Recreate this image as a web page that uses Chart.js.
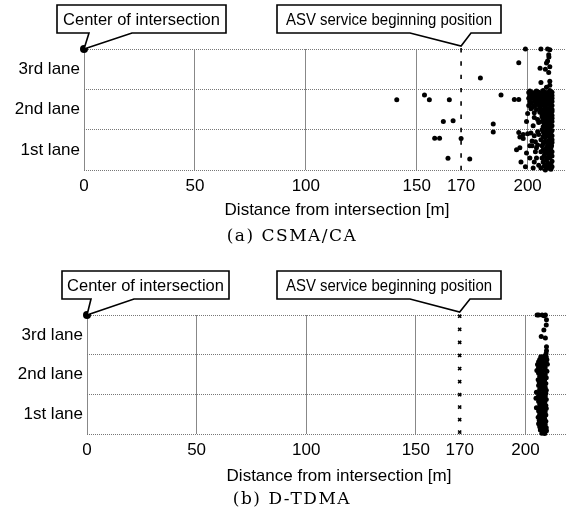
<!DOCTYPE html>
<html><head><meta charset="utf-8">
<script src="https://cdn.jsdelivr.net/npm/chart.js@4/dist/chart.umd.min.js"></script>
<style>
html,body{margin:0;padding:0;background:#fff;}
#wrap{width:566px;height:515px;position:relative;overflow:hidden;}
.p{position:absolute;left:0;width:566px;}
</style></head><body>
<div id="wrap">
<div class="p" style="top:0;height:265px"><canvas id="ca"></canvas></div>
<div class="p" style="top:265px;height:250px"><canvas id="cb"></canvas></div>
</div>
<script>
// ---------- data ----------
const laneLabels = ['1st lane', '2nd lane', '3rd lane'];
const xTickValues = [0, 50, 100, 150, 170, 200];
const xGridValues = [0, 50, 100, 150, 200];
const asvPosition = 170;
const asvMarkY = [2.97, 2.64, 2.31, 1.98, 1.65, 1.32, 0.99, 0.68, 0.36, 0.05];
const centerPoint = [0, 3];
const calloutTexts = ['Center of intersection', 'ASV service beginning position'];
const axisTitle = 'Distance from intersection [m]';
const captions = ['(a) CSMA/CA', '(b) D-TDMA'];

const csmaPoints = [
  [199,3.0],[206,3.0],[209,3.0],[210,2.98],[209.5,2.86],[209.6,2.8],[209,2.7],[208.5,2.65],
  [205.6,2.52],[208,2.5],[209.5,2.42],[210,2.56],[196,2.66],[178.7,2.28],[206,2.17],[210,2.2],
  [210,2.1],[208.5,2.05],
  [141,1.74],[153.5,1.86],[155.7,1.74],[164.7,1.74],[162,1.2],[166.4,1.22],[158.1,0.79],
  [160.3,0.79],[170,0.78],[164.1,0.29],[173.9,0.27],
  [188,1.86],[194,1.75],[196,1.75],
  [201,1.96],[204,1.96],[207,1.97],[210,1.97],
  [200.5,1.92],[202,1.92],[203.5,1.93],[205,1.93],[206.5,1.93],[208,1.93],[209.5,1.93],[211,1.93],
  [207.5,1.89],[209.5,1.89],
  [201,1.85],[202.5,1.85],[204,1.85],[205.5,1.86],[207,1.86],[208.5,1.86],[210,1.86],[211,1.85],
  [206,1.81],[209,1.82],
  [200.5,1.78],[202,1.78],[203.5,1.77],[205,1.78],[206.5,1.78],[208,1.78],[209.5,1.78],[211,1.78],
  [207.5,1.74],[210,1.74],
  [201,1.7],[203,1.7],[204.5,1.7],[206,1.7],[207.5,1.7],[209,1.7],[210.5,1.7],[211,1.7],
  [201.5,1.65],[206.5,1.66],[209.5,1.66],
  [200.5,1.6],[203.5,1.62],[205,1.62],[207,1.62],[208.5,1.62],[210,1.62],[211,1.6],
  [202,1.55],[203,1.58],[205.5,1.56],[208,1.57],[210.5,1.57],
  [201.5,1.52],[204,1.5],[206,1.52],[208,1.52],[209.5,1.52],[211,1.5],
  [207,1.47],[209.5,1.47],[211,1.45],[208.5,1.45],
  [200,1.4],[203,1.42],[205.5,1.43],[207.5,1.42],[209,1.42],[210.5,1.4],
  [206.5,1.37],[208.5,1.36],[210,1.35],[211,1.35],
  [199.5,1.2],[203,1.3],[204.5,1.25],[206.5,1.32],[208,1.3],[209.5,1.3],[211,1.28],
  [207,1.25],[209.5,1.24],[208.5,1.25],[211,1.2],
  [205,1.18],[206.5,1.2],[208.5,1.2],[210,1.18],
  [207.5,1.14],[209.5,1.13],[202.5,1.1],[208.5,1.1],
  [184.5,1.14],[184.5,0.94],
  [207,1.07],[209.5,1.06],[206.5,1.0],[208.5,0.98],[210.5,0.93],[204.5,0.95],[209.5,1.0],[211,0.98],
  [196,0.93],[198,0.88],[200,0.9],[201.5,0.92],[196.5,0.82],[198,0.78],[203,0.85],[205,0.88],
  [207,0.95],[208.5,1.05],[210,1.0],[211,1.1],
  [207.5,0.9],[209.5,0.9],[207,0.83],[210,0.8],[208.5,0.9],[211,0.85],
  [202,0.72],[203.5,0.7],[206,0.75],[208,0.8],[209.5,0.85],[211,0.75],
  [207.5,0.7],[209.5,0.72],[208.5,0.68],[211,0.68],
  [195,0.5],[196.5,0.55],[201,0.6],[202,0.6],[204.5,0.62],[207,0.65],[209,0.6],[210.5,0.55],
  [206.5,0.6],[208.5,0.56],[210,0.62],[204,0.55],[210.8,0.6],
  [207,0.5],[209,0.5],[210.5,0.48],[208.5,0.48],
  [199.5,0.42],[203.5,0.45],[206,0.45],[208,0.42],[209.5,0.4],[211,0.45],
  [207.5,0.36],[209.5,0.35],[211,0.35],
  [197,0.2],[201,0.3],[204,0.3],[206.5,0.3],[208.5,0.25],[210,0.3],[208.5,0.3],
  [207,0.2],[209,0.18],[210.5,0.15],[203,0.2],[211,0.22],
  [199,0.08],[202.5,0.05],[205,0.12],[207.5,0.1],[209,0.05],[210.5,0.02],[208,0.0],
  [206,0.05],[209.8,0.1],[208.5,0.12],[211,0.08]
];

const tdmaPoints = [
  [205.3,3.0],[206,3.0],[207.6,3.0],[208.5,2.98],[209.1,3.0],[209.6,2.88],[209.5,2.75],[208.4,2.62],
  [207.2,2.46],[209.1,2.42],[209.6,2.2],[209.6,2.1],[209.4,2.02],
  [207,1.95],[208.5,1.96],[209.5,1.94],
  [206.5,1.88],[208,1.9],[209.8,1.87],
  [206,1.82],[207.5,1.83],[209,1.8],
  [205.5,1.75],[207,1.76],[208.5,1.74],[210,1.76],
  [206,1.68],[207.5,1.7],[209,1.67],
  [205.2,1.6],[206.8,1.62],[208.3,1.6],[209.8,1.58],
  [206,1.53],[207.5,1.52],[209,1.5],
  [206.5,1.45],[208,1.44],[209.5,1.42],
  [205.8,1.37],[207.2,1.36],[208.7,1.35],
  [206.3,1.3],[207.8,1.28],[209.3,1.27],
  [206,1.22],[207.5,1.2],[209,1.18],
  [206.5,1.13],[208,1.12],[209.5,1.1],
  [205,1.05],[206.5,1.04],[208,1.03],[209.3,1.02],
  [206,0.97],[207.5,0.96],[209,0.95],
  [204.8,0.9],[206.5,0.89],[208,0.88],[209.5,0.87],
  [206,0.82],[207.3,0.8],[208.8,0.8],
  [206.5,0.74],[208,0.73],[209.3,0.72],
  [205,0.66],[206.5,0.65],[208,0.65],[209.5,0.64],
  [206,0.58],[207.5,0.57],[209,0.56],
  [206.5,0.5],[208,0.49],[209.3,0.48],
  [205.8,0.42],[207.2,0.41],[208.7,0.4],
  [206.3,0.34],[207.8,0.33],[209.3,0.32],
  [206,0.26],[207.5,0.25],[209,0.24],
  [206.5,0.18],[208,0.17],[209.5,0.16],
  [206.8,0.1],[208.2,0.09],[209.6,0.08],
  [207.5,0.02],[208.8,0.01]
];

// ---------- drawing ----------
const SANS = '"Liberation Sans", Arial, sans-serif';
const SERIF = '"DejaVu Serif", "Liberation Serif", serif';
const toXY = a => a.map(p => ({x: p[0], y: p[1]}));

function calloutPlugin(cfg) {
  return {
    id: 'callouts',
    afterDraw(chart) {
      const ctx = chart.ctx;
      const xs = chart.scales.x, ys = chart.scales.y;
      ctx.save();
      ctx.strokeStyle = '#000';
      ctx.lineWidth = 1.6;
      ctx.lineJoin = 'miter';
      cfg.boxes.forEach(b => {
        const tipX = xs.getPixelForValue(b.tipValue[0]);
        const tipY = ys.getPixelForValue(b.tipValue[1]) + b.tipDy;
        ctx.fillStyle = '#fff';
        ctx.beginPath();
        ctx.moveTo(b.l, b.t);
        ctx.lineTo(b.r, b.t);
        ctx.lineTo(b.r, b.b);
        ctx.lineTo(b.t2, b.b);
        ctx.lineTo(tipX, tipY);
        ctx.lineTo(b.t1, b.b);
        ctx.lineTo(b.l, b.b);
        ctx.closePath();
        ctx.fill();
        ctx.stroke();
        ctx.fillStyle = '#000';
        ctx.font = '16.5px ' + SANS;
        ctx.textAlign = 'center';
        ctx.textBaseline = 'middle';
        ctx.fillText(b.text, (b.l + b.r) / 2, (b.t + b.b) / 2 + 1, b.maxW);
      });
      ctx.font = '17px ' + SANS;
      ctx.textAlign = 'center';
      ctx.textBaseline = 'middle';
      ctx.fillText(axisTitle, cfg.titleX, cfg.titleY);
      ctx.font = '17px ' + SERIF;
      ctx.letterSpacing = '1.5px';
      ctx.fillText(cfg.caption, cfg.capX, cfg.capY);
      ctx.restore();
    }
  };
}

function makeChart(id, pts, o) {
  return new Chart(document.getElementById(id), {
    type: 'scatter',
    data: {
      datasets: [
        { data: toXY(pts), backgroundColor: '#000', borderWidth: 0, pointRadius: o.r, pointHoverRadius: o.r, clip: false },
        { data: asvMarkY.map(y => ({x: asvPosition, y})), pointStyle: o.markStyle, pointRotation: o.markRot,
          pointRadius: 2.2, borderColor: '#000', backgroundColor: '#000', borderWidth: 1.6, clip: false },
        { data: [{x: centerPoint[0], y: centerPoint[1]}], backgroundColor: '#000', borderWidth: 0, pointRadius: 4, clip: false }
      ]
    },
    options: {
      responsive: true, maintainAspectRatio: false, animation: false, devicePixelRatio: 1,
      layout: { autoPadding: false, padding: { top: o.padTop, bottom: o.padBottom, left: 0, right: 0 } },
      plugins: { legend: { display: false }, tooltip: { enabled: false } },
      scales: {
        x: {
          type: 'linear', min: 0, max: o.xmax,
          afterBuildTicks: s => { s.ticks = xTickValues.map(v => ({value: v})); },
          afterFit: s => { s.height = 30; s.paddingRight = 0; s.paddingLeft = 0; },
          ticks: { color: '#000', font: { family: SANS, size: 17 }, padding: 6, maxRotation: 0, autoSkip: false,
                   callback: v => String(v) },
          grid: { drawTicks: false, lineWidth: 1,
                  color: c => (c.tick && xGridValues.includes(c.tick.value)) ? '#888' : 'rgba(0,0,0,0)' },
          border: { display: false }
        },
        y: {
          type: 'linear', min: 0, max: 3,
          afterBuildTicks: s => { s.ticks = [0, 0.5, 1, 1.5, 2, 2.5, 3].map(v => ({value: v})); },
          afterFit: s => { s.width = o.left; s.paddingTop = 0; s.paddingBottom = 0; },
          ticks: { color: '#000', font: { family: SANS, size: 17 }, padding: 4, autoSkip: false,
                   callback: v => (Math.abs(v % 1 - 0.5) < 1e-6) ? laneLabels[Math.floor(v)] : '' },
          grid: { drawTicks: false, lineWidth: 1, borderDash: [1, 1],
                  color: c => (c.tick && Number.isInteger(c.tick.value)) ? '#777' : 'rgba(0,0,0,0)' },
          border: { display: false, dash: [1, 1] }
        }
      }
    },
    plugins: [calloutPlugin(o.callouts)]
  });
}

makeChart('ca', csmaPoints, {
  r: 2.5, markStyle: 'line', markRot: 90, padTop: 49, padBottom: 65, left: 84, xmax: 217.3,
  callouts: {
    boxes: [
      { text: calloutTexts[0], l: 57, r: 226, t: 5, b: 33, t1: 89, t2: 132, tipValue: centerPoint, tipDy: 0, maxW: 160 },
      { text: calloutTexts[1], l: 277, r: 501, t: 5, b: 33, t1: 410, t2: 471, tipValue: [asvPosition, 3], tipDy: -3, maxW: 206 }
    ],
    titleX: 337, titleY: 210, caption: captions[0], capX: 292, capY: 237
  }
});

makeChart('cb', tdmaPoints, {
  r: 2.5, markStyle: 'crossRot', markRot: 0, padTop: 50, padBottom: 51, left: 87, xmax: 218.5,
  callouts: {
    boxes: [
      { text: calloutTexts[0], l: 62, r: 229, t: 6, b: 34, t1: 91, t2: 134, tipValue: centerPoint, tipDy: 0, maxW: 160 },
      { text: calloutTexts[1], l: 277, r: 501, t: 6, b: 34, t1: 410, t2: 470, tipValue: [asvPosition, 3], tipDy: -3, maxW: 206 }
    ],
    titleX: 339, titleY: 211, caption: captions[1], capX: 292, capY: 235
  }
});
</script>
</body></html>
